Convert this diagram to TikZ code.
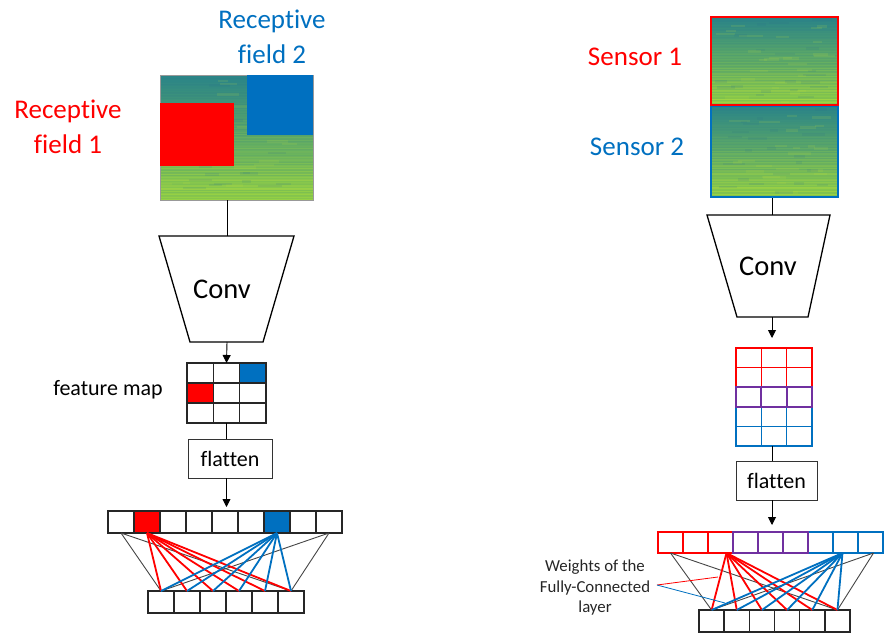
\documentclass[tikz,border=0pt]{standalone}
\usepackage{fontspec}
\setmainfont{Carlito}[Ligatures=CommonOff]
\usetikzlibrary{arrows.meta}
\definecolor{myred}{RGB}{255,0,0}
\definecolor{myblue}{RGB}{0,112,192}
\definecolor{mypurple}{RGB}{112,48,160}
\definecolor{specTop}{RGB}{42,132,136}
\definecolor{specMid}{RGB}{58,163,118}
\definecolor{specBot}{RGB}{145,208,68}
\definecolor{specLight}{RGB}{200,230,60}
\definecolor{specDark}{RGB}{40,110,140}
\definecolor{linegray}{RGB}{70,70,70}

% #1 x1, #2 y1, #3 x2, #4 y2, #5 number of stripes
\newcommand\specfill[5]{%
  \shade[top color=specTop, middle color=specMid, bottom color=specBot] (#1,#2) rectangle (#3,#4);
  \foreach \k in {0,...,#5}{%
    \pgfmathsetmacro\yy{#2+0.8+\k*((#4-#2-1.6)/#5)}%
    \pgfmathsetmacro\ff{(\yy-#2)/(#4-#2)}%
    \pgfmathsetmacro\oa{rnd*0.45*\ff*\ff}%
    \pgfmathsetmacro\ob{rnd*0.12}%
    \draw[specLight, opacity=\oa, line width=0.9pt] (#1,\yy) -- (#3,\yy);
    \draw[specDark, opacity=\ob, line width=0.6pt] (#1,\yy+0.6) -- (#3,\yy+0.6);
  }%
  \foreach \k in {1,...,45}{%
    \pgfmathsetmacro\px{#1+rnd*(#3-#1-20)}%
    \pgfmathsetmacro\py{#2+1+rnd*(#4-#2-5)}%
    \pgfmathsetmacro\pw{6+rnd*18}%
    \pgfmathsetmacro\pc{rnd}%
    \ifdim\pc pt<0.5pt
      \fill[specDark, opacity=0.12] (\px,\py) rectangle (\px+\pw,\py+2.5);
    \else
      \fill[specLight, opacity=0.12] (\px,\py) rectangle (\px+\pw,\py+2.5);
    \fi
  }%
}

\begin{document}
\begin{tikzpicture}[x=1pt,y=-1pt,
  lbl/.style={font=\fontsize{27}{34.5}\selectfont, align=center, inner sep=0},
  convtxt/.style={font=\fontsize{28.5}{32}\selectfont, inner sep=0},
  midtxt/.style={font=\fontsize{22}{25}\selectfont, inner sep=0},
  smalltxt/.style={font=\fontsize{16.8}{20.5}\selectfont, align=center, inner sep=0, text=black!85},
  flatbox/.style={draw=black!80, line width=0.9pt, inner sep=0, minimum height=39, font=\fontsize{22}{25}\selectfont},
  convshape/.style={draw=black, line width=1.3pt},
  conn/.style={draw=black, line width=0.9pt},
  arr/.style={-{Triangle[width=8pt,length=8pt]}},
  kcell/.style={draw=black!85, line width=1.4pt, inner sep=0, outer sep=0},
  wred/.style={draw=myred, line width=1.8pt},
  wblue/.style={draw=myblue, line width=1.8pt},
  wgray/.style={draw=linegray, line width=0.9pt}
]
\useasboundingbox (0,0) rectangle (885,634);
\pgfmathsetseed{17}

% ---------------- LEFT ----------------
\specfill{160}{75}{313}{200}{80}
\node[draw=black!40, line width=0.8pt, minimum width=153, minimum height=125, inner sep=0] (spec1) at (236.5,137.5) {};
\node[fill=myred, minimum width=74, minimum height=63, inner sep=0] (rf1) at (197,134.5) {};
\node[fill=myblue, minimum width=66, minimum height=60, inner sep=0] (rf2) at (280,105) {};

\node[lbl, text=myblue] (rf2lbl) at (272,37) {Receptive\\field 2};
\node[lbl, text=myred] (rf1lbl) at (68,127) {Receptive\\field 1};

% conv left
\coordinate (c1tl) at (159,236); \coordinate (c1tr) at (294,236);
\coordinate (c1br) at (263,342); \coordinate (c1bl) at (190,342);
\coordinate (c1t) at (227,236); \coordinate (c1b) at (227,342);
\draw[convshape] (c1tl) -- (c1tr) -- (c1br) -- (c1bl) -- cycle;
\node[convtxt] (conv1) at (222,289.5) {Conv};

% feature map
\foreach \i/\j/\c in {0/0/white,0/1/white,0/2/myblue,1/0/myred,1/1/white,1/2/white,2/0/white,2/1/white,2/2/white}{
  \node[kcell, fill=\c, minimum width=26.33, minimum height=20] (fm-\i-\j) at ({187+26.33*(\j+0.5)},{363+20*(\i+0.5)}) {};
}
\node[midtxt] (fmlbl) at (108,390) {feature map};

\node[flatbox, minimum width=84] (flat1) at (230,458.5) {flatten};

% flattened vector
\foreach \k/\c in {0/white,1/myred,2/white,3/white,4/white,5/white,6/myblue,7/white,8/white}{
  \node[kcell, fill=\c, minimum width=26, minimum height=22] (v1-\k) at ({121+26*\k},522) {};
}
\foreach \k in {0,...,5}{
  \node[kcell, minimum width=26, minimum height=22] (b1-\k) at ({161+26*\k},602) {};
}

\draw[conn] (spec1.south -| c1t) -- (c1t);
\draw[conn, arr] (c1b) -- (fm-0-1.north);
\draw[conn] (fm-2-1.south) -- (fm-2-1.south |- flat1.north);
\draw[conn, arr] (fm-2-1.south |- flat1.south) -- ([yshift=4pt]fm-2-1.south |- v1-4.north);

\draw[wgray] (v1-0.south) -- (b1-0.north);
\draw[wgray] (v1-0.south) -- (b1-5.north);
\draw[wgray] (v1-8.south) -- (b1-0.north);
\draw[wgray] (v1-8.south) -- (b1-5.north);
\foreach \t in {0,...,5}{ \draw[wred] (v1-1.south) -- (b1-\t.north); }
\foreach \t in {0,...,5}{ \draw[wblue] (v1-6.south) -- (b1-\t.north); }

% ---------------- RIGHT ----------------
\specfill{711}{17}{838}{105}{56}
\specfill{711}{106}{838}{197}{58}
\node[draw=myblue, line width=2.8pt, minimum width=127, minimum height=91, inner sep=0] (spec-s2) at (774.5,151.5) {};
\node[draw=myred, line width=2.8pt, minimum width=127, minimum height=88, inner sep=0] (spec-s1) at (774.5,61) {};

\node[lbl, text=myred] (s1lbl) at (635,56.5) {Sensor 1};
\node[lbl, text=myblue] (s2lbl) at (637,146.5) {Sensor 2};

% conv right
\coordinate (c2tl) at (707,215); \coordinate (c2tr) at (830,215);
\coordinate (c2br) at (808,317); \coordinate (c2bl) at (737,317);
\coordinate (c2t) at (772,215); \coordinate (c2b) at (772,317);
\draw[convshape] (c2tl) -- (c2tr) -- (c2br) -- (c2bl) -- cycle;
\node[convtxt] (conv2) at (768,266.5) {Conv};

% grid 5x3
\foreach \i/\c/\w in {0/myred/1.3,1/myred/1.3,3/myblue/1.3,4/myblue/1.3,2/mypurple/2.2}{
  \foreach \j in {0,1,2}{
    \node[draw=\c, line width=\w pt, inner sep=0, outer sep=0, minimum width=25.33, minimum height=19.6] (g-\i-\j) at ({736+25.33*(\j+0.5)},{348+19.6*(\i+0.5)}) {};
  }
}

\node[flatbox, minimum width=81] (flat2) at (776.5,480.5) {flatten};

\foreach \k/\c in {0/myred,1/myred,2/myred,6/myblue,7/myblue,8/myblue,3/mypurple,4/mypurple,5/mypurple}{
  \node[draw=\c, line width=1.5pt, inner sep=0, outer sep=0, minimum width=25, minimum height=21] (v2-\k) at ({658+25*(\k+0.5)},542.5) {};
}
\foreach \k in {0,...,5}{
  \node[kcell, minimum width=25.17, minimum height=22] (b2-\k) at ({699+25.17*(\k+0.5)},621) {};
}

\draw[conn] (spec-s2.south -| c2t) -- (c2t);
\draw[conn, arr] (c2b) -- ([yshift=10pt]c2b |- g-0-1.north);
\draw[conn] (c2b |- g-4-1.south) -- (c2b |- flat2.north);
\draw[conn, arr] (c2b |- flat2.south) -- ([yshift=7pt]c2b |- v2-4.north);

\draw[wgray] (v2-0.south) -- (b2-0.north);
\draw[wgray] (v2-0.south) -- (b2-5.north);
\draw[wgray] ([xshift=3pt]v2-8.south) -- (b2-0.north);
\draw[wgray] ([xshift=3pt]v2-8.south) -- (b2-5.north);
\foreach \t in {0,...,5}{ \draw[wred] ([xshift=6pt]v2-2.south) -- (b2-\t.north); }
\foreach \t in {0,...,5}{ \draw[wblue] ([xshift=-3pt]v2-7.south) -- (b2-\t.north); }

\node[smalltxt] (wlbl) at (595,588) {Weights of the\\Fully-Connected\\layer};
\coordinate (wpt) at (657,585);
\coordinate (wred) at (718,577);
\coordinate (wblu) at (725,603);
\draw[myred, line width=0.8pt] (wpt) -- (wred);
\draw[myblue, line width=0.8pt] (wpt) -- (wblu);
\end{tikzpicture}
\end{document}
